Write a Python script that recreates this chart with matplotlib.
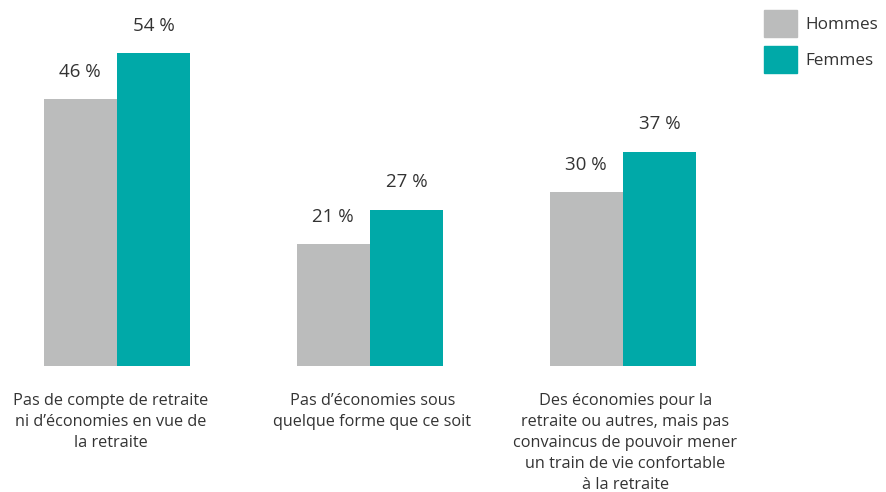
import numpy as np
import matplotlib.pyplot as plt
from matplotlib.patches import Patch

plt.rcParams['font.family'] = ['Open Sans', 'DejaVu Sans']

categories = [
    "Pas de compte de retraite\nni d’économies en vue de\nla retraite",
    "Pas d’économies sous\nquelque forme que ce soit",
    "Des économies pour la\nretraite ou autres, mais pas\nconvaincus de pouvoir mener\nun train de vie confortable\nà la retraite",
]
hommes = [46, 21, 30]
femmes = [54, 27, 37]
series_names = ["Hommes", "Femmes"]
colors = ["#BBBCBC", "#00A9A8"]
text_color = "#333333"

fig = plt.figure(figsize=(8.86, 4.92), dpi=100)
ax = fig.add_axes([0, 0, 1, 1])

x = np.arange(len(categories)) * 1.0
w = 0.29
b1 = ax.bar(x - w / 2, hommes, w, color=colors[0])
b2 = ax.bar(x + w / 2, femmes, w, color=colors[1])

for bars, vals in ((b1, hommes), (b2, femmes)):
    for bar, v in zip(bars, vals):
        ax.annotate(f"{v} %", (bar.get_x() + bar.get_width() / 2, v),
                    xytext=(0, 19.5), textcoords="offset points",
                    ha="center", va="center", fontsize=13.5, color=text_color)

for i, (xi, label) in enumerate(zip(x, categories)):
    ax.text(xi - (0.025 if i == 0 else -0.01), -4.6, label, ha="center",
            va="top", fontsize=11.7, color=text_color, linespacing=1.42)

ax.set_xlim(-0.462, 3.04)
ax.set_ylim(-21.74, 63.15)
ax.axis("off")

handles = [Patch(color=c) for c in colors]
fig.legend(handles, series_names, loc="upper left",
           bbox_to_anchor=(764 / 886, 1 - 10 / 492), frameon=False,
           borderpad=0, borderaxespad=0, fontsize=12.3, labelcolor=text_color,
           handlelength=1.95, handleheight=2.07, handletextpad=0.5,
           labelspacing=0.53)

fig.savefig("out.png", dpi=100)
